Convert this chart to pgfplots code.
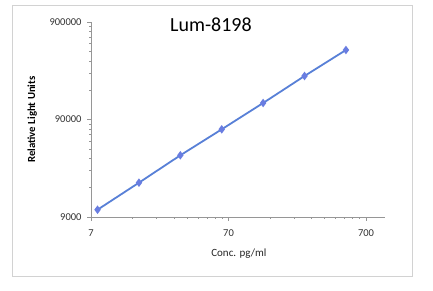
\documentclass[border=0pt]{standalone}
\usepackage{pgfplots}
\pgfplotsset{compat=1.18}
\usepackage{fontspec}
\setmainfont{Carlito}
\definecolor{lineblue}{RGB}{88,128,215}
\definecolor{markblue}{RGB}{105,125,225}
\definecolor{axgray}{RGB}{150,150,150}
\begin{document}
\begin{tikzpicture}[x=1pt,y=1pt]
\useasboundingbox[fill=white] (0,0) rectangle (433,290);
\draw[gray!35,line width=0.8pt] (12,14) rectangle (412,285);
\begin{axis}[
  at={(91pt,73pt)}, anchor=south west,
  scale only axis, width=294pt, height=195pt,
  xmode=log, ymode=log,
  xmin=7, xmax=962, ymin=9000, ymax=900000,
  axis lines=left, axis line style={axgray,-},
  xtick={7,70,700}, xticklabels={7,70,700},
  ytick={9000,90000,900000}, yticklabels={9000,90000,900000},
  minor xtick={14,21,28,35,42,49,56,63,140,210,280,350,420,490,560,630},
  minor ytick={18000,27000,36000,45000,54000,63000,72000,81000,180000,270000,360000,450000,540000,630000,720000,810000},
  tick align=outside,
  major tick length=4pt, minor tick length=2pt,
  tick style={axgray, line width=0.5pt},
  every tick label/.append style={font=\fontsize{10.5}{12}\selectfont, text=black!80},
  xticklabel style={yshift=-5pt},
  yticklabel style={xshift=-2pt},
  /pgf/number format/assume math mode=true,
  xlabel={Conc. pg/ml},
  xlabel style={at={(axis description cs:0.503,-0.19)}, anchor=center, font=\fontsize{11}{13}\selectfont, text=black!85},
  ylabel={\textbf{Relative Light Units}},
  ylabel style={at={(axis description cs:-0.2,0.5)}, anchor=center, rotate=0, font=\fontsize{10.8}{12}\selectfont},
  title={Lum-8198},
  title style={at={(axis description cs:0.408,0.954)}, anchor=center, font=\fontsize{20}{24}\selectfont},
  clip=false,
]
\addplot[lineblue, line width=1.8pt, mark=diamond*, mark size=2.8pt, mark options={fill=markblue, draw=markblue}]
coordinates {
(7.8125,10690) (15.625,20240) (31.25,38650) (62.5,71400) (125,132900) (250,251400) (500,464500)
};
\end{axis}
\end{tikzpicture}
\end{document}
